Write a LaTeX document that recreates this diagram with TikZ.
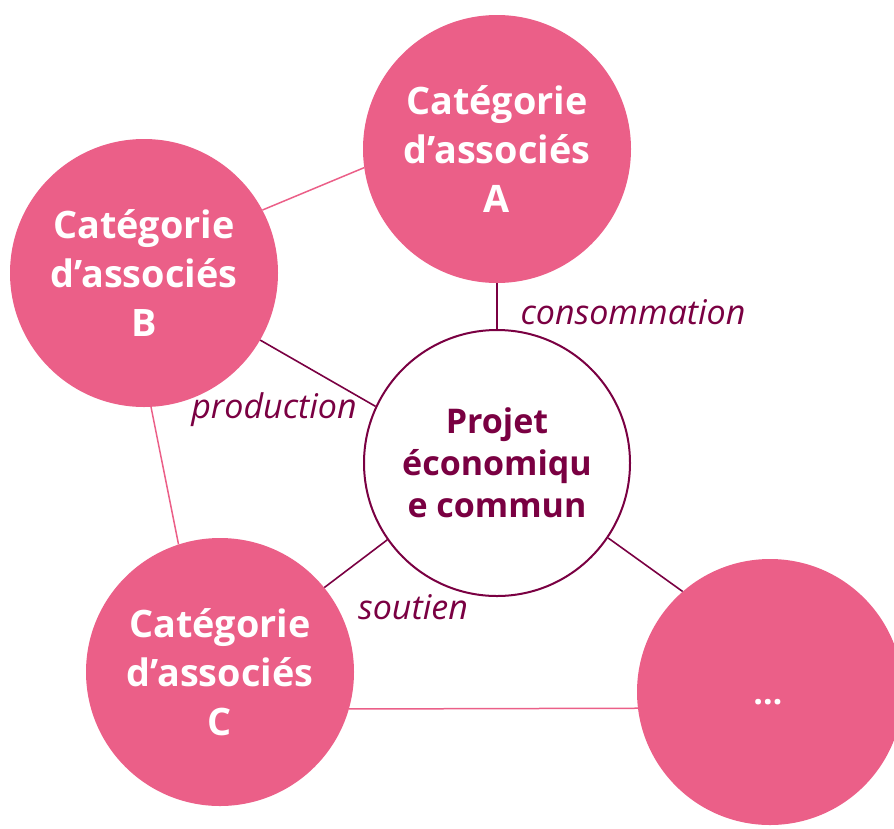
\documentclass[tikz,border=0pt]{standalone}
\usepackage{fontspec}
\setmainfont{Open Sans}
\definecolor{pinkc}{HTML}{EB5F88}
\definecolor{maroon}{HTML}{7A0042}
\begin{document}
\begin{tikzpicture}[x=1pt,y=-1pt,
  outer/.style={circle,fill=pinkc,minimum size=268pt,inner sep=0pt,text=white,font=\fontsize{37.8}{49}\selectfont\bfseries,align=center},
  centre/.style={circle,fill=white,draw=maroon,line width=2pt,minimum size=266pt,inner sep=0pt,text=maroon,font=\fontsize{34}{42}\selectfont\bfseries,align=center},
  lbl/.style={text=maroon,font=\fontsize{34}{38}\selectfont\itshape},
  pinkline/.style={draw=pinkc,line width=1.5pt},
  darkline/.style={draw=maroon,line width=1.6pt}]
\useasboundingbox (0,0) rectangle (894,828);
\node[outer] (A) at (497,149) {Catégorie\\d’associés\\A};
\node[outer] (B) at (144,273) {Catégorie\\d’associés\\B};
\node[outer] (C) at (220,672) {Catégorie\\d’associés\\C};
\node[outer,minimum size=266pt] (D) at (770,692) {};
\node[text=white,font=\fontsize{34}{40}\selectfont\bfseries] (Dt) at (768,702) {…};
\node[centre] (P) at (497,463) {Projet\\économiqu\\e commun};
\draw[pinkline] (A.188) -- (B.28);
\draw[pinkline] (B.-87) -- (C.108);
\draw[pinkline] (C.-16) -- (D.187);
\draw[darkline] (A.south) -- (P.north);
\draw[darkline] (B.-30) -- (P.155);
\draw[darkline] (C.39) -- (P.215);
\draw[darkline] (P.-34) -- (D.131);
\node[lbl] (l1) at (633,312) {consommation};
\node[lbl] (l2) at (274,410) {production};
\node[lbl] (l3) at (413,607) {soutien};
\end{tikzpicture}
\end{document}
